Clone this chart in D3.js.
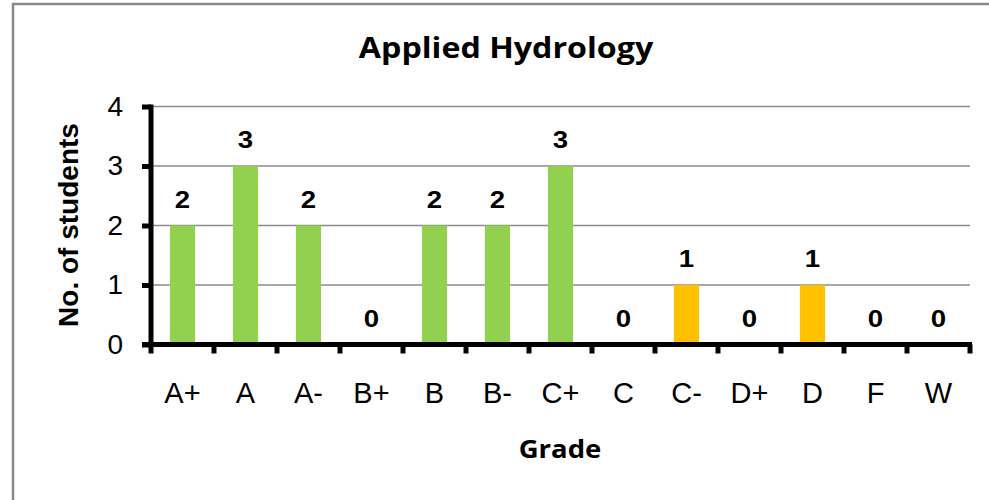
<!DOCTYPE html>
<html>
<head>
<meta charset="utf-8">
<script src="https://cdn.jsdelivr.net/npm/d3@7"></script>
<style>
  body { margin: 0; background: #fff; }
  svg { display: block; }
</style>
</head>
<body>
<svg id="chart" width="989" height="500"></svg>
<script>
// data
var grades = ['A+', 'A', 'A-', 'B+', 'B', 'B-', 'C+', 'C', 'C-', 'D+', 'D', 'F', 'W'];
var students = [2, 3, 2, 0, 2, 2, 3, 0, 1, 0, 1, 0, 0];
var yTicks = [0, 1, 2, 3, 4];
var lastGreen = 'C+';

var svg = d3.select('#chart');
var plotLeft = 151, plotRight = 970, plotTop = 106.5, plotBottom = 344.5;
var arial = '"Liberation Sans", Arial, sans-serif';
var calibri = '"Open Sans", sans-serif';

// chart border
svg.append('rect')
  .attr('x', 13).attr('y', 4)
  .attr('width', 1000).attr('height', 600)
  .attr('fill', 'none')
  .attr('stroke', '#8a8a8a')
  .attr('stroke-width', 2.5);

var x = d3.scaleBand()
  .domain(grades)
  .range([plotLeft, plotRight])
  .paddingInner(0.6)
  .paddingOuter(0.3);

var y = d3.scaleLinear()
  .domain([0, 4])
  .range([plotBottom, plotTop]);

// gridlines
svg.append('g')
  .selectAll('line')
  .data(yTicks.slice(1))
  .enter()
  .append('line')
  .attr('x1', plotLeft).attr('x2', plotRight)
  .attr('y1', function(d) { return y(d); })
  .attr('y2', function(d) { return y(d); })
  .attr('stroke', '#8c8c8c')
  .attr('stroke-width', 1.5);

// bars
var greenIdx = grades.indexOf(lastGreen);
svg.append('g')
  .selectAll('rect')
  .data(students)
  .enter()
  .append('rect')
  .attr('x', function(d, i) { return x(grades[i]); })
  .attr('y', function(d) { return y(d); })
  .attr('width', x.bandwidth())
  .attr('height', function(d) { return y(0) - y(d); })
  .attr('fill', function(d, i) { return i <= greenIdx ? '#92d050' : '#ffc000'; });

// data labels (a bit wide, like the original)
svg.append('g')
  .selectAll('text')
  .data(students)
  .enter()
  .append('text')
  .attr('transform', function(d, i) {
    return 'translate(' + (x(grades[i]) + x.bandwidth() / 2) + ',' + (y(d) - 18) + ') scale(1.15,1)';
  })
  .attr('text-anchor', 'middle')
  .style('font-family', arial)
  .style('font-weight', 'bold')
  .style('font-size', '24px')
  .text(function(d) { return d; });

// y axis
var yAxis = d3.axisLeft(y).tickValues(yTicks).tickSize(9).tickPadding(19).tickFormat(d3.format('d'));
var gy = svg.append('g')
  .attr('transform', 'translate(' + plotLeft + ',0)')
  .call(yAxis);
gy.select('.domain').remove();
gy.append('line')
  .attr('x1', 0).attr('x2', 0)
  .attr('y1', plotTop - 2).attr('y2', plotBottom + 2)
  .attr('stroke', '#000').attr('stroke-width', 5);
gy.selectAll('.tick line').attr('stroke', '#000').attr('stroke-width', 5);
gy.selectAll('.tick text')
  .style('font-family', arial)
  .style('font-size', '28px')
  .attr('fill', '#000');

// x axis
var xEdges = d3.scaleLinear().domain([0, grades.length]).range([plotLeft, plotRight]);
var gx = svg.append('g')
  .attr('transform', 'translate(0,' + plotBottom + ')');
gx.append('line')
  .attr('x1', plotLeft - 9).attr('x2', plotRight + 2)
  .attr('y1', 0).attr('y2', 0)
  .attr('stroke', '#000').attr('stroke-width', 5);
gx.selectAll('.edge')
  .data(d3.range(grades.length + 1))
  .enter()
  .append('line')
  .attr('class', 'edge')
  .attr('x1', function(d) { return xEdges(d); })
  .attr('x2', function(d) { return xEdges(d); })
  .attr('y1', 0).attr('y2', 9)
  .attr('stroke', '#000').attr('stroke-width', 5);
gx.selectAll('.lbl')
  .data(grades)
  .enter()
  .append('text')
  .attr('class', 'lbl')
  .attr('x', function(d) { return x(d) + x.bandwidth() / 2; })
  .attr('y', 58)
  .attr('text-anchor', 'middle')
  .style('font-family', arial)
  .style('font-size', '29px')
  .text(function(d) { return d; });

// title
svg.append('text')
  .attr('transform', 'translate(506,58) scale(1.15,1)')
  .attr('text-anchor', 'middle')
  .style('font-family', calibri)
  .style('font-weight', 'bold')
  .style('font-size', '28px')
  .text('Applied Hydrology');

// axis titles
svg.append('text')
  .attr('transform', 'translate(560,458) scale(1.1,1)')
  .attr('text-anchor', 'middle')
  .style('font-family', calibri)
  .style('font-weight', 'bold')
  .style('font-size', '25px')
  .text('Grade');

svg.append('text')
  .attr('transform', 'translate(78,225) rotate(-90)')
  .attr('text-anchor', 'middle')
  .style('font-family', arial)
  .style('font-weight', 'bold')
  .style('font-size', '28px')
  .text('No. of students');
</script>
</body>
</html>
